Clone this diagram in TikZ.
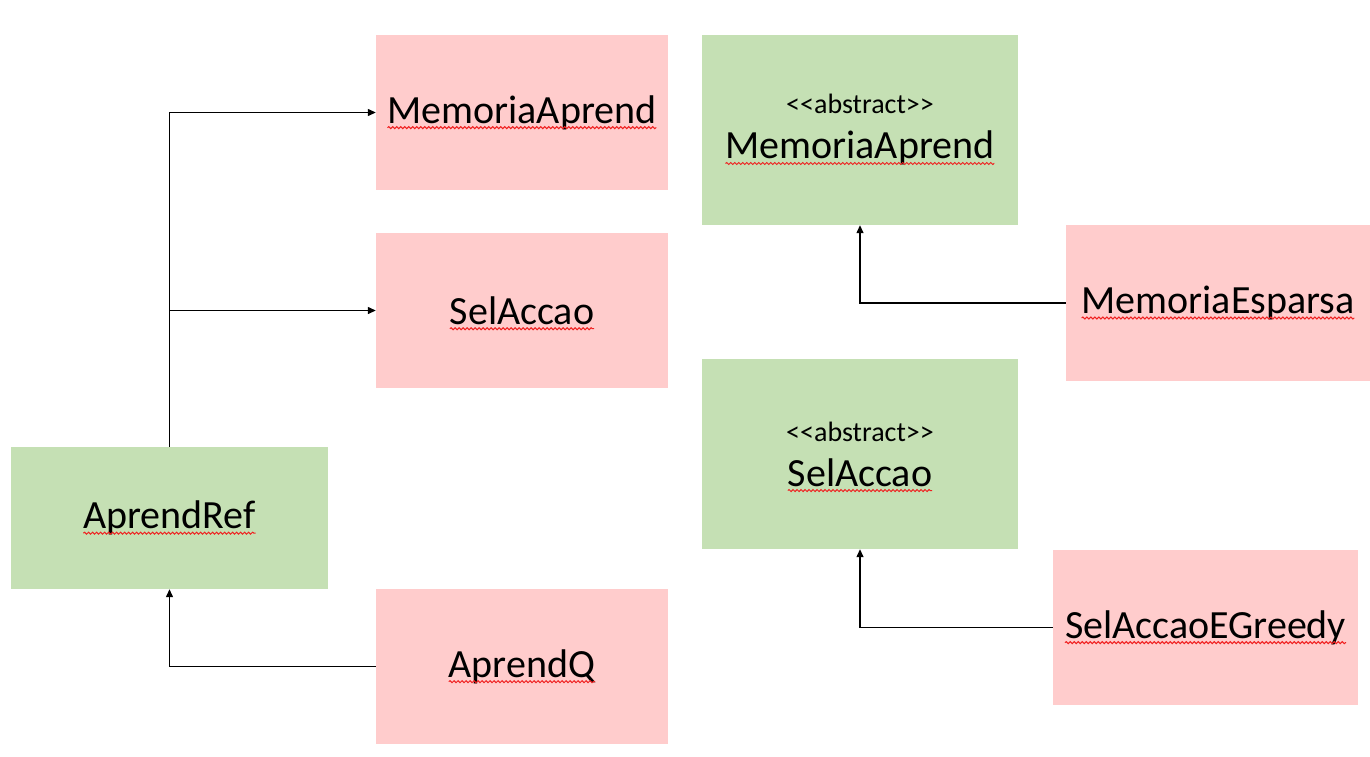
\documentclass[tikz,border=0pt]{standalone}
\usepackage{fontspec}
\setmainfont{Carlito}
\usetikzlibrary{arrows.meta,decorations.pathmorphing}
\definecolor{boxpink}{HTML}{FFCCCC}
\definecolor{boxgreen}{HTML}{C5E0B4}
\definecolor{squigred}{HTML}{F02020}
\newcommand\namefont{\fontsize{40}{45}\selectfont}
\newcommand\sq[1]{\tikz[baseline=(sqt.base), x=1pt, y=1pt]{%
  \node[rectangle, inner sep=0pt, outer sep=0pt, minimum width=0pt, minimum height=0pt,
        font=\namefont, draw=none, fill=none] (sqt) {#1};
  \draw[squiggle, overlay] ([yshift=-4.5pt]sqt.base west) -- ([yshift=-4.5pt]sqt.base east);}}
\tikzset{
  cls/.style={rectangle, inner sep=0pt, align=center, font=\namefont},
  pinkbox/.style={cls, fill=boxpink},
  greenbox/.style={cls, fill=boxgreen},
  arr/.style={draw=black, line width=1.3pt, -{Triangle[length=8pt,width=7pt]}},
  squiggle/.style={draw=squigred, line width=1pt,
    decorate, decoration={snake, amplitude=1pt, segment length=4pt}},
}
\newcommand\stereo{{\fontsize{28}{30}\selectfont <\kern0pt<abstract>\kern0pt>}}
\begin{document}
\begin{tikzpicture}[x=1pt,y=-1pt]
\useasboundingbox (0,0) rectangle (1370,757);
\node[pinkbox, minimum width=292pt, minimum height=155pt] (ma) at (522,112.5) {\sq{MemoriaAprend}};
\node[pinkbox, minimum width=292pt, minimum height=155pt] (sa) at (522,310.5) {\sq{SelAccao}};
\node[pinkbox, minimum width=292pt, minimum height=155pt] (aq) at (522,666.5) {\sq{AprendQ}};
\node[greenbox, minimum width=317pt, minimum height=142pt] (ar) at (169.5,518) {\sq{AprendRef}};
\node[greenbox, minimum width=316pt, minimum height=190pt] (ama) at (860,130) {\stereo\\\sq{MemoriaAprend}};
\node[pinkbox, minimum width=304pt, minimum height=156pt] (me) at (1218,303) {\sq{MemoriaEsparsa}};
\node[greenbox, minimum width=316pt, minimum height=190pt] (asa) at (860,454) {\stereo\\\sq{SelAccao}};
\node[pinkbox, minimum width=305pt, minimum height=155pt] (seg) at (1205.5,627.5) {\sq{SelAccaoEGreedy}};
\draw[arr] (ar.north) |- (ma.west);
\draw[arr] (ar.north) |- (sa.west);
\draw[arr] (aq.west) -| (ar.south);
\draw[arr] (me.west) -| (ama.south);
\draw[arr] (seg.west) -| (asa.south);
\end{tikzpicture}
\end{document}
